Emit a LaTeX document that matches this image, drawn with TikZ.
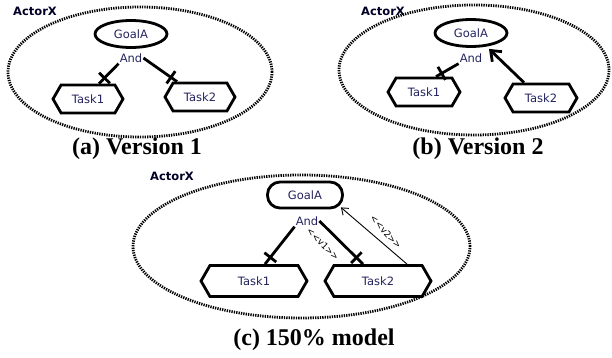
\documentclass[tikz,border=0pt]{standalone}
\usepackage{fontspec}
\setmainfont{Liberation Serif}
\newfontfamily\nf{DejaVu Sans}
\usetikzlibrary{shapes.geometric,shapes.symbols,decorations.markings,arrows.meta,calc}
\definecolor{navy}{RGB}{35,35,95}
\begin{document}
\begin{tikzpicture}[x=1pt,y=-1pt,
  actor/.style={ellipse,draw,line width=2.8pt,dash pattern=on 1.3pt off 1.1pt,inner sep=0pt},
  actorlbl/.style={font=\nf\bfseries\fontsize{11.5}{13}\selectfont,text=black!85!blue,inner sep=0pt},
  goal/.style={ellipse,draw,line width=2.8pt,inner sep=0pt,
    font=\nf\fontsize{11.5}{13}\selectfont,text=navy},
  goalbox/.style={rectangle,draw,line width=2.8pt,rounded corners=12.5pt,inner sep=0pt,
    font=\nf\fontsize{11.5}{13}\selectfont,text=navy},
  task/.style={signal,signal to=east and west,signal pointer angle=120,draw,line width=2.8pt,
    inner sep=0pt,font=\nf\fontsize{11.5}{13}\selectfont,text=navy},
  andlbl/.style={font=\nf\fontsize{11.5}{13}\selectfont,text=navy,inner sep=1pt},
  caption/.style={font=\bfseries\fontsize{24}{26}\selectfont,inner sep=0pt},
  link/.style={line width=2.8pt},
  crossed/.style={postaction={decorate},decoration={markings,
     mark=at position #1 with {\draw[line width=2.8pt] (0,-7.5pt)--(0,7.5pt);}}},
  vlbl/.style={font=\nf\fontsize{9}{10}\selectfont,inner sep=0pt},
]
\useasboundingbox (0,0) rectangle (612,358);

% (a)
\node[actor,minimum width=264,minimum height=130] (ea) at (140,72) {};
\node[actorlbl] (xa) at (35,11) {ActorX};
\node[goal,minimum width=72,minimum height=27] (ga) at (131,34) {GoalA};
\node[andlbl] (aa) at (131,58) {And};
\node[task,minimum width=70,minimum height=28] (t1a) at (88,99) {Task1};
\node[task,minimum width=70,minimum height=28] (t2a) at (200,97) {Task2};
\draw[link,crossed=0.72] (aa.south west) -- ($(t1a.north)+(11,0)$);
\draw[link,crossed=0.82] (aa.east) -- ($(t2a.north)+(-23,0)$);
\node[caption] (ca) at (137,149) {(a) Version 1};

% (b)
\node[actor,minimum width=270,minimum height=130] (eb) at (474,70) {};
\node[actorlbl] (xb) at (383,11) {ActorX};
\node[goal,minimum width=72,minimum height=27] (gb) at (471,33) {GoalA};
\node[andlbl] (ab) at (471,58) {And};
\node[task,minimum width=72,minimum height=28] (t1b) at (424,92) {Task1};
\node[task,minimum width=72,minimum height=28] (t2b) at (541,98) {Task2};
\draw[link,crossed=0.75] (ab.south west) -- ($(t1b.north)+(12,0)$);
\draw[link,-{Straight Barb[length=9pt,width=14pt]}] ($(t2b.north)+(-17,0)$) -- ($(gb.south)+(18,1)$);
\node[caption] (cb) at (478,149) {(b) Version 2};

% (c)
\node[actor,minimum width=337,minimum height=143] (ec) at (301.5,246.5) {};
\node[actorlbl] (xc) at (172,176) {ActorX};
\node[goalbox,minimum width=75,minimum height=26] (gc) at (305,195) {GoalA};
\node[andlbl] (ac) at (307,221) {And};
\node[task,minimum width=106,minimum height=31] (t1c) at (254,281) {Task1};
\node[task,minimum width=106,minimum height=31] (t2c) at (378,281) {Task2};
\draw[link,crossed=0.82] (ac.south west) -- ($(t1c.north)+(11,0)$);
\draw[link,crossed=0.85] (ac.east) -- ($(t2c.north)+(-15,0)$);
\draw[line width=0.9pt,-{Straight Barb[length=6pt,width=9pt]}] ($(t2c.north)+(29,0)$) -- ($(gc.south east)+(-3,-2)$);
\node[vlbl,rotate=-45] (v1) at (323,244) {<<v1>>};
\node[vlbl,rotate=-48] (v2) at (386,232) {<<v2>>};
\node[caption] (cc) at (314,340) {(c) 150\% model};
\end{tikzpicture}
\end{document}
